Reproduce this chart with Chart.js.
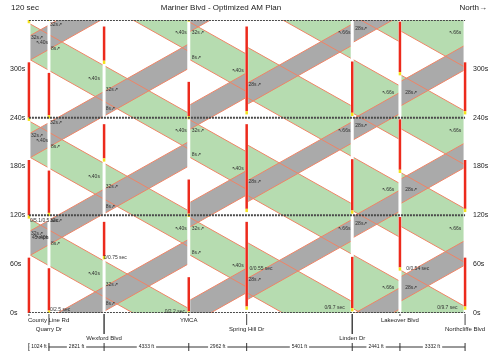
<!DOCTYPE html>
<html>
<head>
<meta charset="utf-8">
<script src="https://cdn.jsdelivr.net/npm/chart.js@4.4.0/dist/chart.umd.min.js"></script>
<style>
  html, body { margin: 0; padding: 0; background: #fff; }
  #wrap { width: 490px; height: 358px; }
</style>
</head>
<body>
<div id="wrap"><canvas id="tsd" width="490" height="358"></canvas></div>
<script>
// time-space diagram, 120 s cycle, three cycles shown
const CYCLE = 120;
const siteNames = ['County Line Rd', 'Quarry Dr', 'Wexford Blvd', 'YMCA', 'Spring Hill Dr', 'Linden Dr', 'Lakeover Blvd', 'Northcliffe Blvd'];
const linkFeet = [1024, 2821, 4333, 2962, 5401, 2441, 3332];
const sitePos = linkFeet.reduce((acc, d) => { acc.push(acc[acc.length - 1] + d); return acc; }, [0]);
const speedFps = 74;

// southbound green band: time of lower edge at each link's left node, and width
const sbStart = [72, 58, 20, 72, 25, 6, 107];
const sbWidth = [44, 44, 44, 46, 62, 66, 66];
// northbound band (grey): time of lower edge at each link's left node, and width
const nbStart = [70, 84, 2, 105, 16, 92, 14];
const nbWidth = [30, 30, 30, 30, 26, 26, 30];

// signal red / yellow per intersection (seconds within cycle)
const redStart = [0, 3, 70, 2, 8, 6, 56, 8];
const redEnd = [68, 55, 112, 44, 112, 69, 118, 68];
const yellowSec = 4;

const yTicks = [0, 60, 120, 180, 240, 300];
const cycleLines = [0, 120, 240, 360];

// band notes repeated every cycle: [feet, sec in cycle, text]
const bandNotes = [
  [1072, 114, '32s\u2197'], [102, 98, '32s\u2197'], [357, 92, '\u219640s'], [1124, 85, '8s\u2197'],
  [3013, 48, '\u219640s'], [3933, 35, '32s\u2197'], [3933, 11, '8s\u2197'],
  [7457, 104, '\u219640s'], [8325, 104, '32s\u2197'], [8325, 74, '8s\u2197'],
  [10368, 58, '\u219640s'], [11236, 41, '28s\u2197'],
  [15832, 104, '\u219666s'], [16700, 110, '28s\u2197'], [21502, 104, '\u219666s'],
  [18080, 31, '\u219666s'], [19254, 31, '28s\u2197']
];
// offsets and speed notes, first cycle only
const timingNotes = [
  [1072, 4, '0/2.5 sec'], [3830, 68, '0/0.75 sec'], [6946, 2, '0/2.2 sec'],
  [11287, 54, '0/0.55 sec'], [15117, 7, '0/9.7 sec'], [19305, 54, '0/0.54 sec'],
  [20889, 7, '0/9.7 sec'], [153, 92, '45 mph'], [51, 113, '0/5.1/0.5 sec']
];
const distLabels = linkFeet.map(d => d + ' ft');
const labelRow = [0, 1, 2, 0, 1, 2, 0, 1];

const GREEN = '#b6dcb0';
const GREY = '#aaaaaa';
const EDGE = '#ef8466';
const RED = '#ec2a1c';
const YELLOW = '#f4e21c';

const datasets = [];
const cycles = [-4, -3, -2, -1, 0, 1, 2, 3, 4, 5];

function addBand(i, start, width, dir, color, order) {
  const xL = sitePos[i], xR = sitePos[i + 1];
  const dt = dir * linkFeet[i] / speedFps;
  cycles.forEach(k => {
    const t0 = start + CYCLE * k;
    const lo = Math.min(t0, t0 + dt), hi = Math.max(t0, t0 + dt) + width;
    if (hi < 0 || lo > 360) return;
    datasets.push({
      data: [{x: xL, y: t0}, {x: xR, y: t0 + dt}, {x: xR, y: t0 + dt + width}, {x: xL, y: t0 + width}, {x: xL, y: t0}],
      backgroundColor: color, borderWidth: 0, fill: 'shape', order: order
    });
    [0, width].forEach(w => {
      datasets.push({
        data: [{x: xL, y: t0 + w}, {x: xR, y: t0 + dt + w}],
        borderColor: EDGE, borderWidth: 1, fill: false, order: 4
      });
    });
  });
}

for (let i = 0; i < linkFeet.length; i++) addBand(i, sbStart[i], sbWidth[i], -1, GREEN, 6);
for (let i = 0; i < linkFeet.length; i++) addBand(i, nbStart[i], nbWidth[i], 1, GREY, 5);

sitePos.forEach((x, i) => {
  datasets.push({data: [{x: x, y: 0}, {x: x, y: 360}], borderColor: '#ffffff', borderWidth: 3, fill: false, order: 3});
  [-1, 0, 1, 2, 3].forEach(k => {
    const r0 = redStart[i] + CYCLE * k, r1 = redEnd[i] + CYCLE * k;
    datasets.push({data: [{x: x, y: r0}, {x: x, y: r1}], borderColor: RED, borderWidth: 2.5, fill: false, order: 2});
    datasets.push({data: [{x: x, y: r0 - yellowSec}, {x: x, y: r0}], borderColor: YELLOW, borderWidth: 2.5, fill: false, order: 1});
  });
});

cycleLines.forEach(t => {
  datasets.push({data: [{x: 0, y: t}, {x: sitePos[sitePos.length - 1], y: t}], borderColor: '#4a4a4a', borderWidth: 2, borderDash: [2, 1], fill: false, order: 0});
});

const FONT = '"Liberation Sans", Arial, sans-serif';

const decor = {
  id: 'decor',
  afterDatasetsDraw(chart) {
    const {ctx, chartArea: a, scales: {x, y}} = chart;
    const x0 = x.getPixelForValue(0);
    const x1 = x.getPixelForValue(sitePos[sitePos.length - 1]);
    ctx.save();
    ctx.fillStyle = '#222';
    ctx.textBaseline = 'middle';

    ctx.font = '8px ' + FONT;
    ctx.textAlign = 'left';
    ctx.fillText('120 sec', 11, 8);
    ctx.textAlign = 'center';
    ctx.fillText('Mariner Blvd - Optimized AM Plan', 221, 8);
    ctx.textAlign = 'right';
    ctx.fillText('North\u2192', 487, 8);

    ctx.font = '7px ' + FONT;
    yTicks.forEach(t => {
      const py = y.getPixelForValue(t);
      ctx.textAlign = 'left';
      ctx.fillText(t + 's', 10, py);
      ctx.fillText(t + 's', x1 + 8, py);
    });

    // notes inside the bands
    ctx.font = '5px ' + FONT;
    ctx.textAlign = 'left';
    ctx.fillStyle = '#333';
    [0, 1, 2].forEach(k => {
      bandNotes.forEach(([f, t, txt]) => {
        const tt = t + CYCLE * k;
        if (tt > 360) return;
        ctx.fillText(txt, x.getPixelForValue(f), y.getPixelForValue(tt));
      });
    });
    timingNotes.forEach(([f, t, txt]) => {
      ctx.fillText(txt, x.getPixelForValue(f), y.getPixelForValue(t));
    });

    // intersection names
    ctx.font = '6px ' + FONT;
    ctx.fillStyle = '#222';
    const rowY = [320, 329, 338];
    sitePos.forEach((f, i) => {
      const px = x.getPixelForValue(f);
      const ly = rowY[labelRow[i]];
      ctx.strokeStyle = '#444';
      ctx.lineWidth = labelRow[i] === 2 ? 1.5 : 1;
      ctx.beginPath();
      ctx.moveTo(px, a.bottom + 1);
      ctx.lineTo(px, ly - 4);
      ctx.stroke();
      ctx.textAlign = i === 0 ? 'left' : 'center';
      ctx.fillText(siteNames[i], i === 0 ? px - 1 : px, ly);
    });

    // distance scale
    const sy = 347;
    ctx.strokeStyle = '#333';
    ctx.lineWidth = 1;
    ctx.beginPath();
    ctx.moveTo(x0, sy);
    ctx.lineTo(x1, sy);
    ctx.stroke();
    ctx.font = '5px ' + FONT;
    ctx.textAlign = 'center';
    sitePos.forEach((f, i) => {
      const px = x.getPixelForValue(f);
      ctx.beginPath();
      ctx.moveTo(px, sy - 4);
      ctx.lineTo(px, sy + 4);
      ctx.stroke();
      if (i < linkFeet.length) {
        const mid = x.getPixelForValue(f + linkFeet[i] / 2);
        const w = ctx.measureText(distLabels[i]).width + 4;
        ctx.fillStyle = '#fff';
        ctx.fillRect(mid - w / 2, sy - 3, w, 6);
        ctx.fillStyle = '#222';
        ctx.fillText(distLabels[i], mid, sy);
      }
    });
    ctx.restore();
  }
};

new Chart(document.getElementById('tsd'), {
  type: 'line',
  data: {datasets: datasets},
  options: {
    responsive: false,
    animation: false,
    events: [],
    layout: {padding: {left: 26, right: 22, top: 20, bottom: 45}},
    scales: {
      x: {type: 'linear', min: -150, max: sitePos[sitePos.length - 1] + 150, display: false},
      y: {type: 'linear', min: 0, max: 360, display: false}
    },
    elements: {point: {radius: 0}, line: {tension: 0}},
    plugins: {legend: {display: false}, tooltip: {enabled: false}}
  },
  plugins: [decor]
});
</script>
</body>
</html>
